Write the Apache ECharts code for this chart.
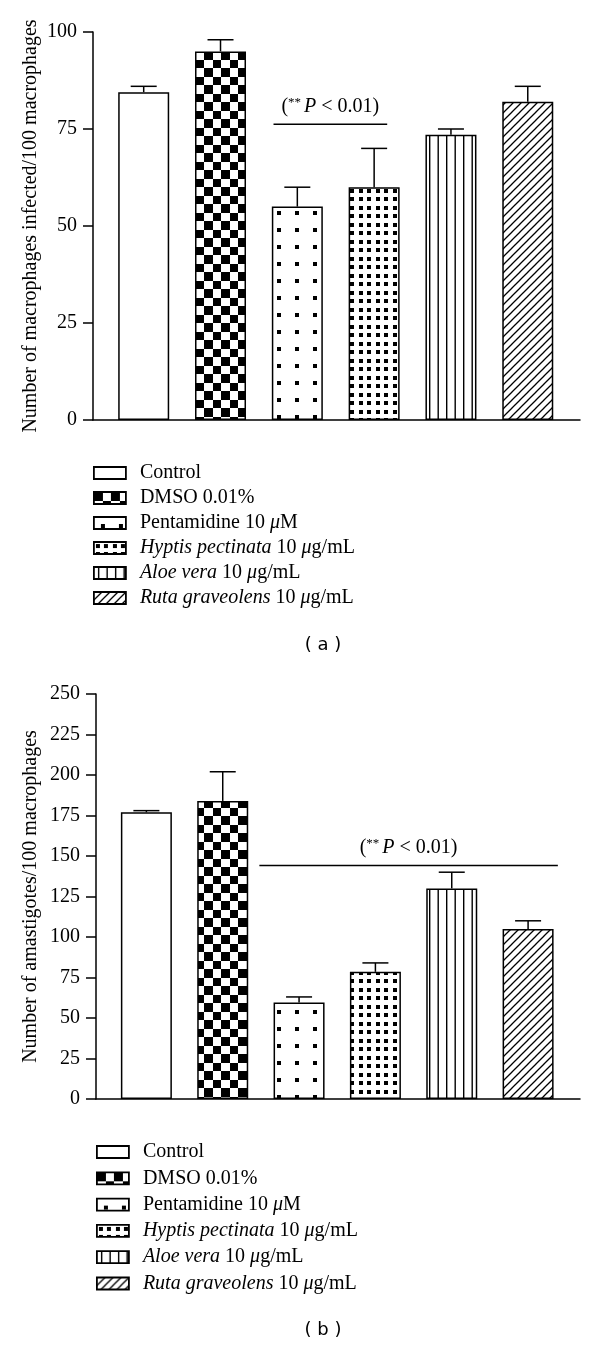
<!DOCTYPE html>
<html>
<head>
<meta charset="utf-8">
<style>
  html, body { margin: 0; padding: 0; background: #fff; }
  #chart { width: 600px; height: 1346px; }
</style>
<script src="https://cdn.jsdelivr.net/npm/echarts@6.0.0/dist/echarts.min.js"></script>
</head>
<body>
<div id="chart"></div>
<script>
// groups, in drawing order
var groups = ['Control', 'DMSO 0.01%', 'Pentamidine 10 μM', 'Hyptis pectinata 10 μg/mL', 'Aloe vera 10 μg/mL', 'Ruta graveolens 10 μg/mL'];

// (a) macrophages infected / 100 macrophages
var infectedMean = [84.5, 95, 55, 60, 73.5, 82];
var infectedErr = [1.5, 3, 5, 10, 1.5, 4];
var infectedTicks = [0, 25, 50, 75, 100];
// significance bar: from x, to x, at y
var infectedSig = [1.69, 3.17, 76.2];

// (b) amastigotes / 100 macrophages
var amastMean = [177, 184, 59.5, 78.5, 130, 105];
var amastErr = [1, 18, 3.5, 5.5, 10, 5];
var amastTicks = [0, 25, 50, 75, 100, 125, 150, 175, 200, 225, 250];
var amastSig = [1.48, 5.39, 144.2];

var serif = 'Liberation Serif';

function tile(w, h, draw) {
	var c = document.createElement('canvas');
	c.width = w; c.height = h;
	var ctx = c.getContext('2d');
	ctx.fillStyle = '#fff';
	ctx.fillRect(0, 0, w, h);
	ctx.fillStyle = '#000';
	ctx.strokeStyle = '#000';
	draw(ctx);
	return { image: c, repeat: 'repeat' };
}

var fills = [
	'#fff',
	tile(17, 17, function (ctx) {
		ctx.fillRect(0, 0, 9, 9);
		ctx.fillRect(9, 9, 8, 8);
	}),
	tile(18, 17, function (ctx) {
		ctx.fillRect(7, 7, 4, 4);
	}),
	tile(17, 17, function (ctx) {
		ctx.fillRect(2, 2, 4, 4);
		ctx.fillRect(10, 2, 4, 4);
		ctx.fillRect(2, 10, 4, 4);
		ctx.fillRect(10, 10, 4, 4);
	}),
	tile(17, 4, function (ctx) {
		ctx.fillRect(4, 0, 1.4, 4);
		ctx.fillRect(12.5, 0, 1.4, 4);
	}),
	tile(8, 8, function (ctx) {
		ctx.lineWidth = 1.3;
		ctx.beginPath();
		ctx.moveTo(-1, 9); ctx.lineTo(9, -1);
		ctx.moveTo(-5, 5); ctx.lineTo(5, -5);
		ctx.moveTo(3, 13); ctx.lineTo(13, 3);
		ctx.stroke();
	})
];

function legendLabel(name) {
	return name
		.replace('Hyptis pectinata', '{i|Hyptis pectinata}')
		.replace('Aloe vera', '{i|Aloe vera}')
		.replace('Ruta graveolens', '{i|Ruta graveolens}')
		.replace('μ', '{i|μ}');
}

function errorBar(params, api) {
	var x = api.value(0), v = api.value(1), e = api.value(2);
	var p0 = api.coord([x, v]);
	var p1 = api.coord([x, v + e]);
	var st = { stroke: '#000', lineWidth: 1.5 };
	return {
		type: 'group',
		children: [
			{ type: 'line', shape: { x1: p0[0], y1: p0[1], x2: p1[0], y2: p1[1] }, style: st },
			{ type: 'line', shape: { x1: p1[0] - 13, y1: p1[1], x2: p1[0] + 13, y2: p1[1] }, style: st }
		]
	};
}

function sigBar(params, api) {
	var a = api.coord([api.value(0), api.value(2)]);
	var b = api.coord([api.value(1), api.value(2)]);
	return {
		type: 'group',
		children: [
			{ type: 'line', shape: { x1: a[0], y1: a[1], x2: b[0], y2: b[1] }, style: { stroke: '#000', lineWidth: 1.5 } },
			{
				type: 'text',
				x: (a[0] + b[0]) / 2,
				y: a[1] - 18,
				style: {
					text: '({s|**}{p|P} < 0.01)',
					fontFamily: serif,
					fontSize: 20,
					fill: '#000',
					align: 'center',
					verticalAlign: 'middle',
					rich: {
						s: { fontFamily: serif, fontSize: 13, verticalAlign: 'top', padding: [0, 3, 8, 0] },
						p: { fontFamily: serif, fontSize: 20, fontStyle: 'italic' }
					}
				}
			}
		]
	};
}

function yAxis(gi, name, ticks, gap) {
	return {
		gridIndex: gi,
		type: 'value',
		min: ticks[0],
		max: ticks[ticks.length - 1],
		interval: ticks[1] - ticks[0],
		name: name,
		nameLocation: 'middle',
		nameGap: gap,
		nameMoveOverlap: false,
		nameTextStyle: { fontFamily: serif, fontSize: 20, color: '#000' },
		axisLine: { show: true, onZero: false, lineStyle: { color: '#000', width: 1.5 } },
		axisTick: { show: true, length: 10, lineStyle: { color: '#000', width: 1.5 } },
		axisLabel: { fontFamily: serif, fontSize: 20, color: '#000', margin: 16 },
		splitLine: { show: false }
	};
}

function xAxis(gi) {
	return {
		gridIndex: gi,
		type: 'value',
		min: -0.66,
		max: 5.68,
		axisLine: { show: true, onZero: false, lineStyle: { color: '#000', width: 1.5 } },
		axisTick: { show: false },
		axisLabel: { show: false },
		splitLine: { show: false }
	};
}

function bars(gi, means) {
	return {
		type: 'bar',
		name: 'bars' + gi,
		xAxisIndex: gi,
		yAxisIndex: gi,
		barWidth: 51,
		data: means.map(function (v, i) {
			return { value: [i, v], itemStyle: { color: fills[i], borderColor: '#000', borderWidth: 1.5 } };
		}),
		z: 2
	};
}

var series = [
	bars(0, infectedMean),
	{
		type: 'custom', xAxisIndex: 0, yAxisIndex: 0, z: 3,
		renderItem: errorBar,
		data: infectedMean.map(function (v, i) { return [i, v, infectedErr[i]]; })
	},
	{
		type: 'custom', xAxisIndex: 0, yAxisIndex: 0, z: 3,
		renderItem: sigBar,
		data: [infectedSig]
	},
	bars(1, amastMean),
	{
		type: 'custom', xAxisIndex: 1, yAxisIndex: 1, z: 3,
		renderItem: errorBar,
		data: amastMean.map(function (v, i) { return [i, v, amastErr[i]]; })
	},
	{
		type: 'custom', xAxisIndex: 1, yAxisIndex: 1, z: 3,
		renderItem: sigBar,
		data: [amastSig]
	}
];

// empty series that only feed the legends
groups.forEach(function (g, i) {
	series.push({
		type: 'custom',
		name: g,
		xAxisIndex: 0,
		yAxisIndex: 0,
		renderItem: function () { return null; },
		itemStyle: { color: fills[i], borderColor: '#000', borderWidth: 1.8 },
		data: []
	});
});

function legend(left, top, gap) {
	return {
		data: groups,
		orient: 'vertical',
		left: left,
		top: top,
		icon: 'rect',
		itemWidth: 32,
		itemHeight: 12,
		itemGap: gap,
		padding: 0,
		selectedMode: false,
		itemStyle: { borderColor: '#000', borderWidth: 1.8 },
		formatter: legendLabel,
		textStyle: {
			fontFamily: serif,
			fontSize: 20,
			lineHeight: 20,
			color: '#000',
			padding: [0, 0, 0, 9],
			rich: { i: { fontFamily: serif, fontSize: 20, fontStyle: 'italic', color: '#000' } }
		}
	};
}

var chart = echarts.init(document.getElementById('chart'));
chart.setOption({
	backgroundColor: '#fff',
	animation: false,
	grid: [
		{ left: 93, right: 20, top: 32, height: 388 },
		{ left: 96, right: 20, top: 694, height: 405 }
	],
	xAxis: [xAxis(0), xAxis(1)],
	yAxis: [
		yAxis(0, 'Number of macrophages infected/100 macrophages', infectedTicks, 52),
		yAxis(1, 'Number of amastigotes/100 macrophages', amastTicks, 55)
	],
	legend: [legend(93, 463, 5), legend(96, 1142, 6.3)],
	graphic: [
		{ type: 'text', x: 323, y: 645, style: { text: '( a )', fontFamily: 'DejaVu Sans', fontSize: 18, fill: '#000', align: 'center', verticalAlign: 'middle' } },
		{ type: 'text', x: 323, y: 1330, style: { text: '( b )', fontFamily: 'DejaVu Sans', fontSize: 18, fill: '#000', align: 'center', verticalAlign: 'middle' } }
	],
	series: series
});
</script>
</body>
</html>
